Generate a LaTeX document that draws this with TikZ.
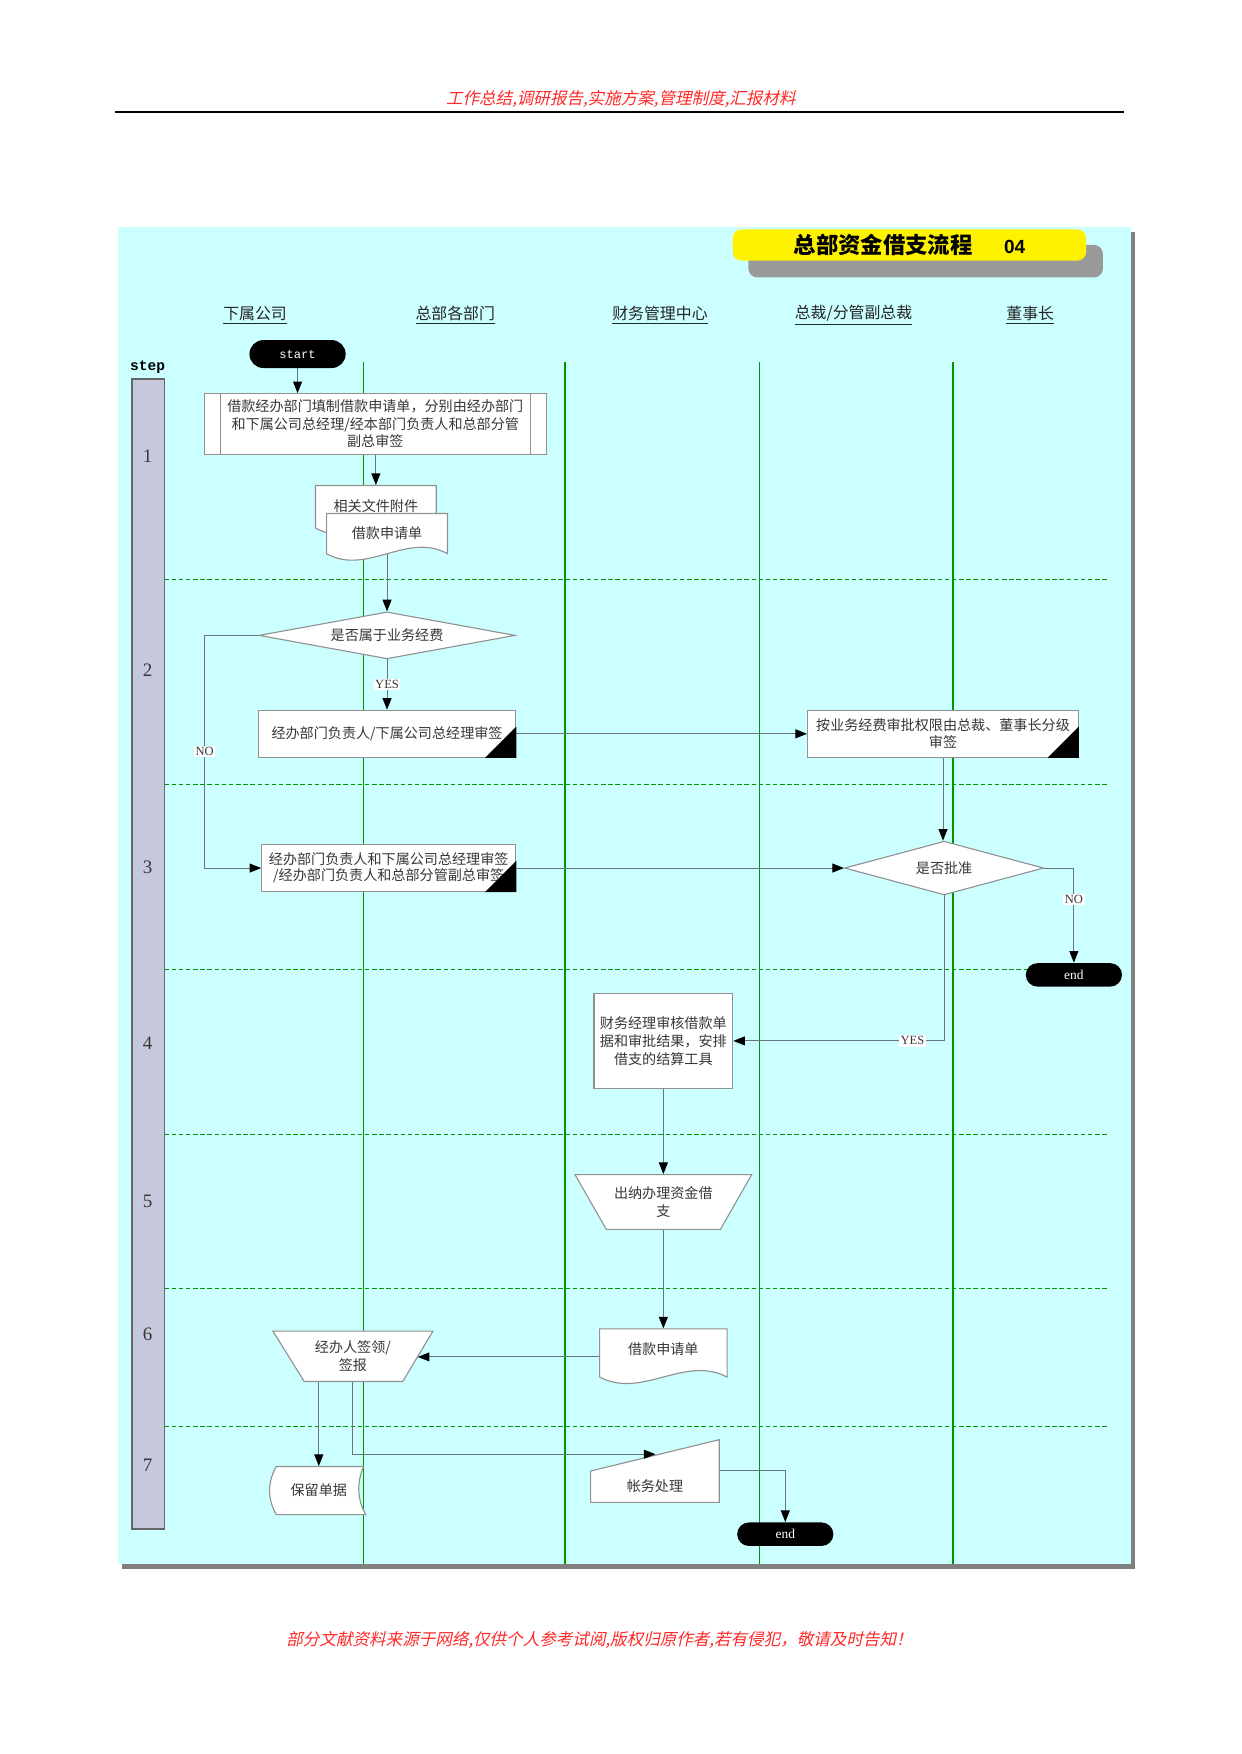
\documentclass[tikz,border=0pt]{standalone}
\usepackage{fontspec}
\setmainfont{Liberation Serif}
\setsansfont{Liberation Sans}
\setmonofont{Liberation Mono}
\newfontfamily\cjk{Noto Sans CJK SC}
\newfontfamily\cjkit{Noto Sans CJK SC}[FakeSlant=0.22]
\usetikzlibrary{arrows.meta,calc,shapes.geometric}
\definecolor{bgcyan}{RGB}{204,255,255}
\definecolor{lanegreen}{RGB}{0,150,0}
\definecolor{stepfill}{RGB}{200,200,220}
\definecolor{hdrred}{RGB}{255,40,40}
\definecolor{connc}{RGB}{105,115,125}
\definecolor{boxline}{RGB}{145,145,145}
\definecolor{txtc}{RGB}{55,55,55}
\definecolor{framegray}{RGB}{128,128,128}
\definecolor{titlegray}{RGB}{153,153,153}
\newcommand\mydoc[4]{\filldraw[draw=boxline,fill=white,line width=0.5pt] (#1,#3) -- (#2,#3) -- (#2,#4) .. controls ({#2-(#2-#1)/3},{#4-20}) and ({#1+(#2-#1)/3},{#4+20}) .. (#1,#4) -- cycle;}
\tikzset{
  boxtext/.style={font=\cjk\fontsize{6.3}{7.8}\selectfont, text=txtc, align=center},
  pbox/.style={draw=boxline, fill=white, line width=0.5pt, inner sep=0pt, boxtext},
  shp/.style={draw=boxline, fill=white, line width=0.5pt},
  ghost/.style={inner sep=0pt, boxtext},
  term/.style={fill=black, rounded corners=5.25pt, inner sep=0pt, minimum width=43pt, minimum height=10.5pt, text=white, font=\rmfamily\fontsize{6}{7}\selectfont},
  dia/.style={draw=boxline, fill=white, line width=0.5pt, diamond, inner sep=0pt, boxtext},
  conn/.style={draw=connc, line width=0.45pt},
  arr/.style={conn, -{Triangle[length=5.2pt,width=4pt,black]}},
  lbl/.style={fill=white, inner sep=0.7pt, font=\rmfamily\fontsize{5.6}{6}\selectfont, text=txtc},
  laneline/.style={draw=lanegreen, line width=0.6pt},
  sepline/.style={draw=lanegreen, line width=0.55pt, dash pattern=on 2pt off 1.2pt},
  lanehd/.style={font=\cjk\fontsize{7.1}{8}\selectfont, text=black!85},
  stepnum/.style={font=\rmfamily\fontsize{8.5}{9}\selectfont, text=txtc},
  redtxt/.style={font=\cjkit\fontsize{7.4}{8}\selectfont, text=hdrred},
}
\begin{document}
\begin{tikzpicture}[x=0.5pt,y=-0.5pt]
\useasboundingbox (0,0) rectangle (1110,1568);
% page header and footer
\node[redtxt] (hdr) at (555,89) {工作总结,调研报告,实施方案,管理制度,汇报材料};
\draw[line width=0.9pt] (103,100) -- (1005,100);
\node[redtxt] (ftr) at (536,1466) {部分文献资料来源于网络,仅供个人参考试阅,版权归原作者,若有侵犯，敬请及时告知！};
% frame
\fill[framegray] (109.5,207) rectangle (1014.5,1402.5);
\fill[bgcyan] (105.5,203) rectangle (1011,1398);
% title
\fill[titlegray, rounded corners=4pt] (669,219) rectangle (986,248);
\node[fill=yellow, rounded corners=4pt, minimum width=158pt, minimum height=14pt, inner sep=0pt] (title) at (813,219)
  {{\cjk\bfseries\fontsize{10}{11}\selectfont 总部资金借支流程}\hspace{14pt}{\sffamily\bfseries\fontsize{8.5}{9}\selectfont 04}};
% lane headers
\node[lanehd] (l1) at (228,282) {\underline{下属公司}};
\node[lanehd] (l2) at (407,282) {\underline{总部各部门}};
\node[lanehd] (l3) at (590,282) {\underline{财务管理中心}};
\node[lanehd] (l4) at (763,282) {\underline{总裁/分管副总裁}};
\node[lanehd] (l5) at (921,282) {\underline{董事长}};
% lane lines
\foreach \x in {325,505,679,852} \draw[laneline] (\x,324) -- (\x,1398);
% step separators
\foreach \y in {518,701,867,1014,1152,1275} \draw[sepline] (147,\y) -- (990,\y);
% step bar
\node[font=\ttfamily\bfseries\fontsize{6.5}{7}\selectfont] (steplbl) at (132,328) {step};
\draw[draw=black!60, fill=stepfill, line width=0.8pt] (118,339) rectangle (147,1367);
\node[stepnum] (s1) at (132,408) {1};
\node[stepnum] (s2) at (132,599) {2};
\node[stepnum] (s3) at (132,775) {3};
\node[stepnum] (s4) at (132,933) {4};
\node[stepnum] (s5) at (132,1074) {5};
\node[stepnum] (s6) at (132,1193) {6};
\node[stepnum] (s7) at (132,1310) {7};
% ---- step 1
\node[term, minimum height=12.5pt, rounded corners=6.25pt, font=\ttfamily\fontsize{5.4}{6}\selectfont] (start) at (266,316.5) {start};
\node[pbox, minimum width=153pt, minimum height=27pt] (b1) at (335.5,379)
  {借款经办部门填制借款申请单，分别由经办部门\\和下属公司总经理/经本部门负责人和总部分管\\副总审签};
\draw[draw=boxline, line width=0.5pt] ($(b1.north west)+(7.5pt,0)$) -- ($(b1.south west)+(7.5pt,0)$);
\draw[draw=boxline, line width=0.5pt] ($(b1.north east)+(-7.5pt,0)$) -- ($(b1.south east)+(-7.5pt,0)$);
\mydoc{282}{390}{434}{472}
\node[ghost, minimum width=54pt, minimum height=19pt] (doc1) at (336,453) {\raisebox{1pt}{相关文件附件}};
\mydoc{292}{400}{459}{495}
\node[ghost, minimum width=54pt, minimum height=18pt] (doc2) at (346,477) {借款申请单};
% ---- step 2
\node[dia, minimum width=114.5pt, minimum height=21pt, aspect=5.4] (d1) at (346,568) {是否属于业务经费};
\node[pbox, minimum width=115pt, minimum height=21pt] (b2) at (346,656) {经办部门负责人/下属公司总经理审签};
\fill (b2.south east) -- ++(0,14pt) -- ++(-14pt,-14pt) -- cycle;
\node[pbox, minimum width=121pt, minimum height=21pt] (b4) at (843,656) {按业务经费审批权限由总裁、董事长分级\\审签};
\fill (b4.south east) -- ++(0,14pt) -- ++(-14pt,-14pt) -- cycle;
% ---- step 3
\node[pbox, minimum width=113.5pt, minimum height=21pt, font=\cjk\fontsize{6.3}{7.3}\selectfont] (b3) at (347.5,776)
  {经办部门负责人和下属公司总经理审签\\/经办部门负责人和总部分管副总审签};
\fill (b3.south east) -- ++(0,14pt) -- ++(-14pt,-14pt) -- cycle;
\node[dia, minimum width=89pt, minimum height=24pt, aspect=3.7] (d2) at (844,776) {是否批准};
\node[term] (e1) at (960,871.5) {end};
% ---- step 4
\node[pbox, minimum width=62pt, minimum height=42.5pt, font=\cjk\fontsize{6.3}{8}\selectfont] (b5) at (593,930.5)
  {财务经理审核借款单\\据和审批结果，安排\\借支的结算工具};
% ---- step 5
\filldraw[shp] (514,1050) -- (672,1050) -- (644,1099) -- (542,1099) -- cycle;
\node[ghost, minimum width=79pt, minimum height=24.5pt] (t1) at (593,1074.5) {出纳办理资金借\\支};
% ---- step 6
\mydoc{536}{650}{1188}{1231}
\node[ghost, minimum width=57pt, minimum height=23pt] (doc3) at (593,1211) {};
\node[ghost] (doc3t) at (593,1206) {借款申请单};
\filldraw[shp] (244,1190) -- (387,1190) -- (360,1235) -- (272,1235) -- cycle;
\node[ghost, minimum width=71.5pt, minimum height=22.5pt] (t2) at (315.5,1212.5) {经办人签领/\\签报};
\coordinate (t2r) at (373.5,1213);
% ---- step 7
\filldraw[shp] (247,1311) -- (325,1311) .. controls (319,1325) and (319,1340) .. (327,1354) -- (247,1354) .. controls (239,1340) and (239,1325) .. (247,1311) -- cycle;
\node[ghost, minimum width=40pt, minimum height=21.5pt] (sd) at (285,1332.5) {保留单据};
\filldraw[shp] (528,1315) -- (643,1287) -- (643,1343) -- (528,1343) -- cycle;
\node[ghost, minimum width=57.5pt, minimum height=14pt] (mi) at (585.5,1329) {帐务处理};
\coordinate (miin) at (586,1300);
\node[term] (e2) at (702,1371.5) {end};
% ---- connectors
\draw[arr] (start.south) -- (start.south |- b1.north);
\draw[arr] (doc1.north |- b1.south) -- (doc1.north);
\draw[arr] (doc2.south) -- (d1.north);
\draw[arr] (d1.south) -- node[lbl]{YES} (b2.north);
\draw[arr] (d1.west) -- ++(-48,0) |- node[lbl,pos=0.25]{NO} (b3.west);
\draw[arr] (b2.east) -- (b4.west);
\draw[arr] (b3.east) -- (d2.west);
\draw[arr] (b4.south) -- (b4.south |- d2.north);
\draw[arr] (d2.east) -| node[lbl,pos=0.665]{NO} (e1.north);
\draw[arr] (d2.south) |- node[lbl,pos=0.575]{YES} (b5.east);
\draw[arr] (b5.south) -- (t1.north);
\draw[arr] (t1.south) -- (doc3.north);
\draw[arr] (doc3.west |- t2r) -- (t2r);
\draw[arr] (t2.south -| sd.north) -- (sd.north);
\draw[arr] (t2.south) |- (miin);
\draw[arr] (mi.north east) -| (e2.north);
\end{tikzpicture}
\end{document}
